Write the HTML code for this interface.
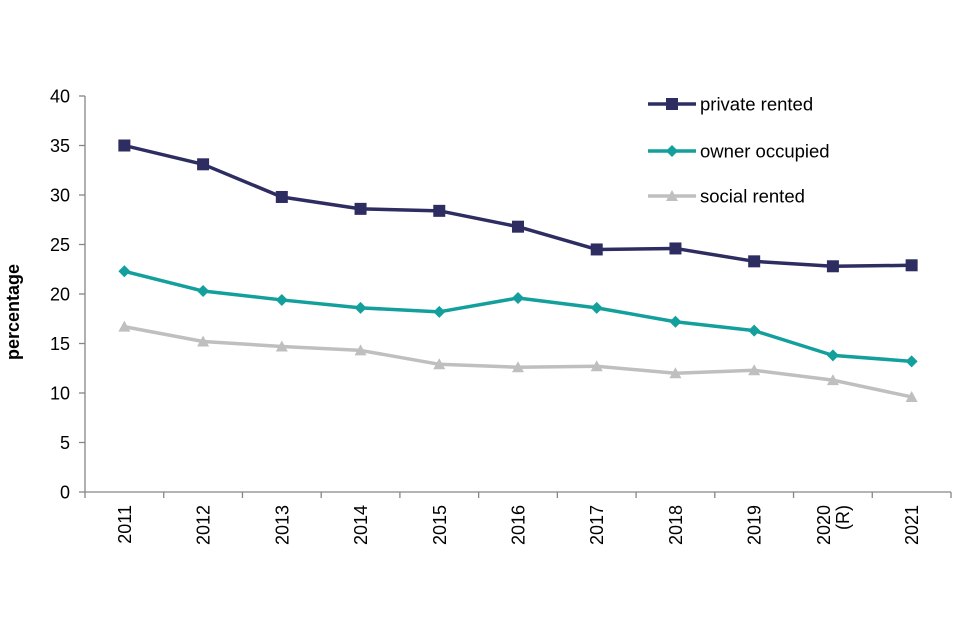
<!DOCTYPE html>
<html><head><meta charset="utf-8"><style>
body{margin:0;background:#fff;}
svg{display:block;font-family:"Liberation Sans",Arial,sans-serif;}
</style></head><body>
<svg id="chart" width="960" height="640" viewBox="0 0 960 640" xmlns="http://www.w3.org/2000/svg">
<g id="axes"></g><g id="series"></g><g id="legend"></g>
<text transform="translate(19,312) rotate(-90)" text-anchor="middle" font-size="18" font-weight="bold" fill="#000">percentage</text>
</svg>
<script>
const categories = ["2011","2012","2013","2014","2015","2016","2017","2018","2019","2020\n(R)","2021"];
const privateRented = [35.0,33.1,29.8,28.6,28.4,26.8,24.5,24.6,23.3,22.8,22.9];
const ownerOccupied = [22.3,20.3,19.4,18.6,18.2,19.6,18.6,17.2,16.3,13.8,13.2];
const socialRented = [16.7,15.2,14.7,14.3,12.9,12.6,12.7,12.0,12.3,11.3,9.6];
const yTicks = [0,5,10,15,20,25,30,35,40];
const seriesNames = ["private rented","owner occupied","social rented"];

const NS="http://www.w3.org/2000/svg";
const x0=85,x1=951,y0=492,y1=96,yMax=40;
const step=(x1-x0)/categories.length;
const xs=i=>x0+step*(i+0.5);
const ys=v=>y0-(v/yMax)*(y0-y1);
function mk(tag,attrs,parent){const e=document.createElementNS(NS,tag);for(const k in attrs)e.setAttribute(k,attrs[k]);parent.appendChild(e);return e;}
const axes=document.getElementById('axes');
let e=mk('line',{x1:x0,y1:y1,x2:x0,y2:y0,stroke:'#868686','stroke-width':1.3},axes);


e=mk('line',{x1:x0,y1:y0,x2:x1,y2:y0,stroke:'#868686','stroke-width':1.3},axes);


yTicks.forEach(v=>{
  mk('line',{x1:x0-6,y1:ys(v),x2:x0,y2:ys(v),stroke:'#868686','stroke-width':1.3},axes);
  const t=mk('text',{x:x0-15,y:ys(v)+6.5,'text-anchor':'end','font-size':18,fill:'#000'},axes);
  t.textContent=v;
  
  
});
for(let i=0;i<=categories.length;i++){
  mk('line',{x1:x0+step*i,y1:y0,x2:x0+step*i,y2:y0+6,stroke:'#868686','stroke-width':1.3},axes);
}
categories.forEach((c,i)=>{
  const lines=c.split('\n');
  lines.forEach((ln,j)=>{
    const off=(j-(lines.length-1)/2)*19;
    const t=mk('text',{transform:`translate(${xs(i)+6.5+off},${y0+13}) rotate(-90)`,'text-anchor':'end','font-size':18,fill:'#000'},axes);
    t.textContent=ln;
    
    
  });
});
const colors=['#2e2d62','#13a09c','#bfbfbf'];
const data=[privateRented,ownerOccupied,socialRented];
const sg=document.getElementById('series');
function marker(k,x,y,g){
  if(k===0) return mk('rect',{x:x-6,y:y-6,width:12,height:12,fill:colors[0]},g);
  if(k===1) return mk('polygon',{points:`${x},${y-6} ${x+6},${y} ${x},${y+6} ${x-6},${y}`,fill:colors[1]},g);
  return mk('polygon',{points:`${x},${y-6} ${x+6},${y+5} ${x-6},${y+5}`,fill:colors[2]},g);
}
data.forEach((arr,k)=>{
  const g=mk('g',{},sg);
  
  
  const p=mk('polyline',{points:arr.map((v,i)=>xs(i)+','+ys(v)).join(' '),fill:'none',stroke:colors[k],'stroke-width':3.5,'stroke-linejoin':'round'},g);
  
  
  arr.forEach((v,i)=>{
    const m=marker(k,xs(i),ys(v),g);
    
    
  });
});
const lg=document.getElementById('legend');
const ly=[104,151,196];
seriesNames.forEach((n,k)=>{
  const g=mk('g',{},lg);
  
  
  mk('line',{x1:648,y1:ly[k],x2:696,y2:ly[k],stroke:colors[k],'stroke-width':3.5},g);
  marker(k,672,ly[k],g);
  const t=mk('text',{x:700,y:ly[k]+6.5,'font-size':18.5,fill:'#000'},g);
  t.textContent=n;
});
</script>
</body></html>
